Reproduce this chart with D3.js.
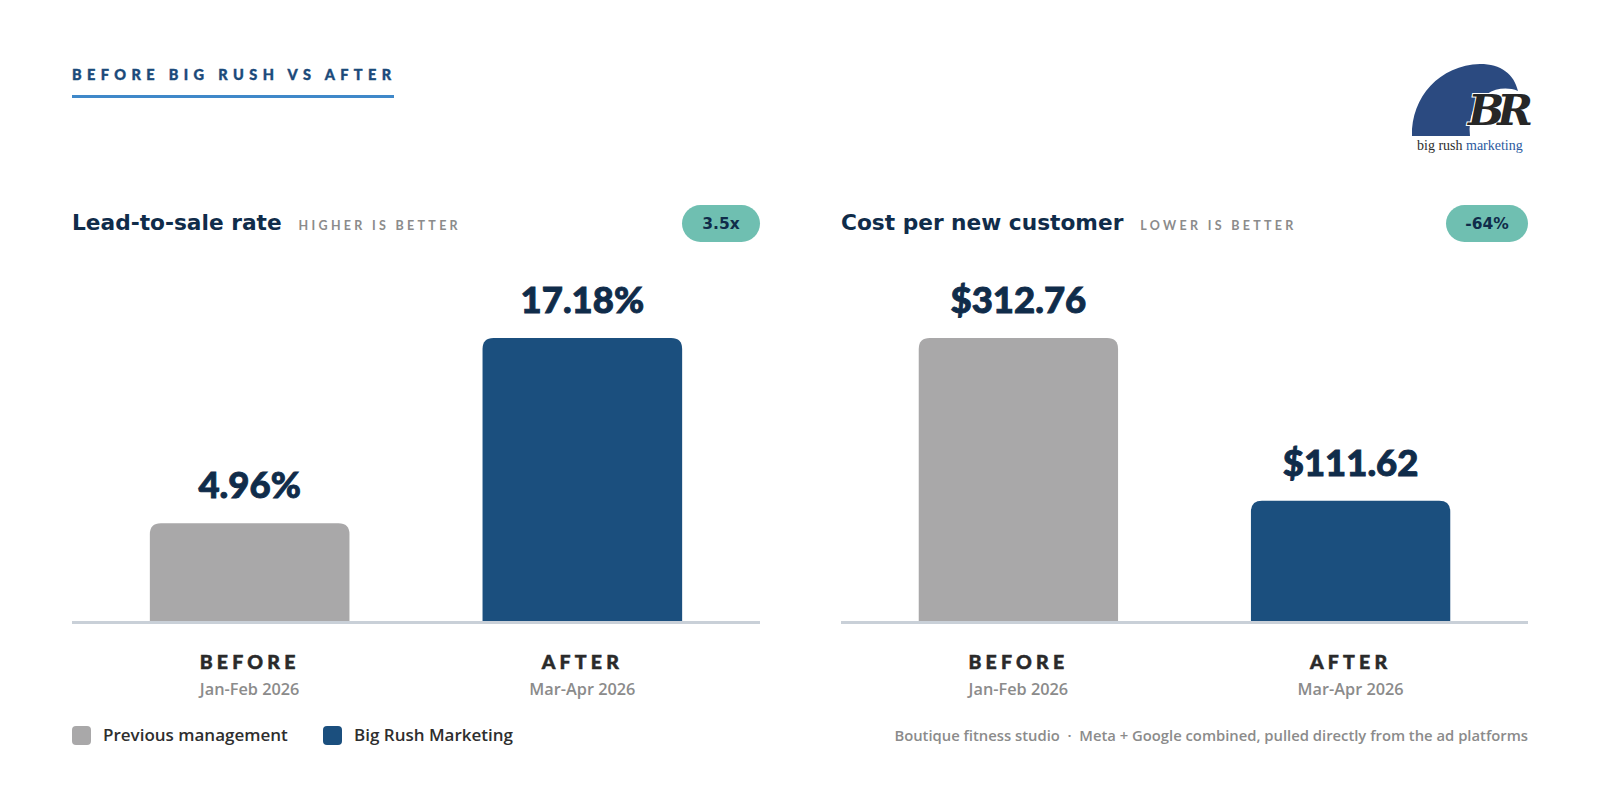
<!DOCTYPE html>
<html>
<head>
<meta charset="utf-8">
<script src="https://cdn.jsdelivr.net/npm/d3@7"></script>
<style>
  html, body { margin: 0; padding: 0; background: #fff; }
  svg { display: block; font-family: "Open Sans", "Lato", sans-serif; }
</style>
</head>
<body>
<div class="canvas"></div>
<script>
// data
const periods = ['BEFORE', 'AFTER'];
const periodDates = ['Jan-Feb 2026', 'Mar-Apr 2026'];
const seriesNames = ['Previous management', 'Big Rush Marketing'];
const leadToSale = [4.96, 17.18];
const costPerCustomer = [312.76, 111.62];
const panelTitles = ['Lead-to-sale rate', 'Cost per new customer'];
const panelHints = ['HIGHER IS BETTER', 'LOWER IS BETTER'];
const panelBadges = ['3.5x', '-64%'];

const W = 1600, H = 790;
const colour = d3.scaleOrdinal().domain(periods).range(['#a9a8a9', '#1b4f7e']);
const navy = '#102c4a';
const grey = '#8b8b8b';
const wide = '"DejaVu Sans", "Open Sans", sans-serif';

const svg = d3.select('.canvas')
  .append('svg')
  .attr('width', W)
  .attr('height', H);

// page title
svg.append('text')
  .attr('x', 72).attr('y', 80)
  .attr('fill', '#1b4a7a')
  .attr('font-family', 'Lato, sans-serif')
  .attr('font-size', 14.5).attr('font-weight', 900)
  .attr('stroke', '#1b4a7a').attr('stroke-width', 0.4)
  .style('letter-spacing', '5.4px')
  .text('BEFORE BIG RUSH VS AFTER');
svg.append('rect')
  .attr('x', 72).attr('y', 95).attr('width', 322).attr('height', 3)
  .attr('fill', '#3f88c9');

// logo
const logo = svg.append('g');
logo.append('path')
  .attr('d', 'M1412,136 C1411,97 1440,65 1480,64 C1501,64 1514,74 1518,91 C1508,87 1496,88 1487,94 C1474,102 1468,118 1470,136 Z')
  .attr('fill', '#2b4a80');
logo.append('text')
  .attr('x', 1468).attr('y', 125)
  .attr('font-family', '"DejaVu Serif", "Liberation Serif", serif')
  .attr('font-style', 'italic').attr('font-weight', 'bold')
  .attr('font-size', 43)
  .attr('fill', '#262626')
  .attr('stroke', '#fff').attr('stroke-width', 2)
  .attr('paint-order', 'stroke')
  .style('letter-spacing', '-7px')
  .text('BR');
const logoText = logo.append('text')
  .attr('x', 1417).attr('y', 150)
  .attr('font-family', '"Liberation Serif", "DejaVu Serif", serif')
  .attr('font-size', 14);
logoText.append('tspan').attr('fill', '#2d2d2d').text('big rush ');
logoText.append('tspan').attr('fill', '#2b5aa0').text('marketing');

// panels
const panels = [
  { x0: 72, x1: 760, values: leadToSale, fmt: d => d.toFixed(2) + '%', floor: 22.5, badgeW: 78 },
  { x0: 841, x1: 1528, values: costPerCustomer, fmt: d => '$' + d.toFixed(2), floor: 30, badgeW: 82 }
];

const baseY = 621;
const maxH = 283;

// bar with rounded top corners
const barPath = (x, y, w, h, r) =>
  `M${x},${y + h} V${y + r} Q${x},${y} ${x + r},${y} H${x + w - r} Q${x + w},${y} ${x + w},${y + r} V${y + h} Z`;

panels.forEach((p, i) => {
  const g = svg.append('g');

  // header
  const title = g.append('text')
    .attr('x', p.x0).attr('y', 230)
    .attr('fill', navy)
    .attr('font-family', wide)
    .attr('font-size', 21.7).attr('font-weight', 'bold')
    .text(panelTitles[i]);
  const titleEnd = p.x0 + title.node().getComputedTextLength();
  g.append('text')
    .attr('x', titleEnd + 17).attr('y', 230)
    .attr('fill', grey)
    .attr('font-family', 'Lato, sans-serif')
    .attr('font-size', 12.5).attr('font-weight', 700)
    .style('letter-spacing', '3.3px')
    .text(panelHints[i]);

  // badge
  g.append('rect')
    .attr('x', p.x1 - p.badgeW).attr('y', 205)
    .attr('width', p.badgeW).attr('height', 37)
    .attr('rx', 18.5)
    .attr('fill', '#6fbfb1');
  g.append('text')
    .attr('x', p.x1 - p.badgeW / 2).attr('y', 229)
    .attr('text-anchor', 'middle')
    .attr('fill', navy)
    .attr('font-family', wide)
    .attr('font-size', 15.5).attr('font-weight', 'bold')
    .text(panelBadges[i]);

  const x = d3.scaleBand()
    .domain(periods)
    .range([p.x0, p.x1])
    .paddingInner(0.4)
    .paddingOuter(0.234);

  const h = d3.scaleLinear()
    .domain([0, d3.max(p.values)])
    .range([p.floor, maxH]);

  const rows = periods.map((k, j) => ({ key: k, value: p.values[j], date: periodDates[j] }));

  g.selectAll('path.bar')
    .data(rows)
    .enter()
    .append('path')
      .attr('class', 'bar')
      .attr('fill', d => colour(d.key))
      .attr('d', d => barPath(x(d.key), baseY - h(d.value), x.bandwidth(), h(d.value), 11));

  g.selectAll('text.val')
    .data(rows)
    .enter()
    .append('text')
      .attr('class', 'val')
      .attr('x', d => x(d.key) + x.bandwidth() / 2)
      .attr('y', d => baseY - h(d.value) - 25)
      .attr('text-anchor', 'middle')
      .attr('fill', navy)
      .attr('stroke', navy).attr('stroke-width', 0.9)
      .attr('font-family', 'Lato, sans-serif')
      .attr('font-size', 36.5).attr('font-weight', 900)
      .text(d => p.fmt(d.value));

  // baseline
  g.append('rect')
    .attr('x', p.x0).attr('y', baseY)
    .attr('width', p.x1 - p.x0).attr('height', 3)
    .attr('fill', '#c9d0d8');

  // category labels
  g.selectAll('text.cat')
    .data(rows)
    .enter()
    .append('text')
      .attr('class', 'cat')
      .attr('x', d => x(d.key) + x.bandwidth() / 2)
      .attr('y', 669)
      .attr('text-anchor', 'middle')
      .attr('fill', '#2a2a2a')
      .attr('stroke', '#2a2a2a').attr('stroke-width', 0.5)
      .attr('font-family', 'Lato, sans-serif')
      .attr('font-size', 19.5).attr('font-weight', 900)
      .style('letter-spacing', '4.2px')
      .text(d => d.key);

  g.selectAll('text.date')
    .data(rows)
    .enter()
    .append('text')
      .attr('class', 'date')
      .attr('x', d => x(d.key) + x.bandwidth() / 2)
      .attr('y', 695)
      .attr('text-anchor', 'middle')
      .attr('fill', grey)
      .attr('font-size', 16.3).attr('font-weight', 600)
      .text(d => d.date);
});

// legend
const legendX = [72, 323];
const legend = svg.append('g');
legend.selectAll('rect')
  .data(seriesNames)
  .enter()
  .append('rect')
    .attr('x', (d, i) => legendX[i]).attr('y', 726)
    .attr('width', 19).attr('height', 19)
    .attr('rx', 4)
    .attr('fill', (d, i) => colour(periods[i]));
legend.selectAll('text')
  .data(seriesNames)
  .enter()
  .append('text')
    .attr('x', (d, i) => legendX[i] + 31).attr('y', 741)
    .attr('fill', '#2e2e2e')
    .attr('font-size', 17).attr('font-weight', 600)
    .text(d => d);

// footer
svg.append('text')
  .attr('x', 1528).attr('y', 741)
  .attr('text-anchor', 'end')
  .attr('fill', grey)
  .attr('font-size', 14.8).attr('font-weight', 600)
  .text('Boutique fitness studio \u00a0\u00b7\u00a0 Meta + Google combined, pulled directly from the ad platforms');
</script>
</body>
</html>
